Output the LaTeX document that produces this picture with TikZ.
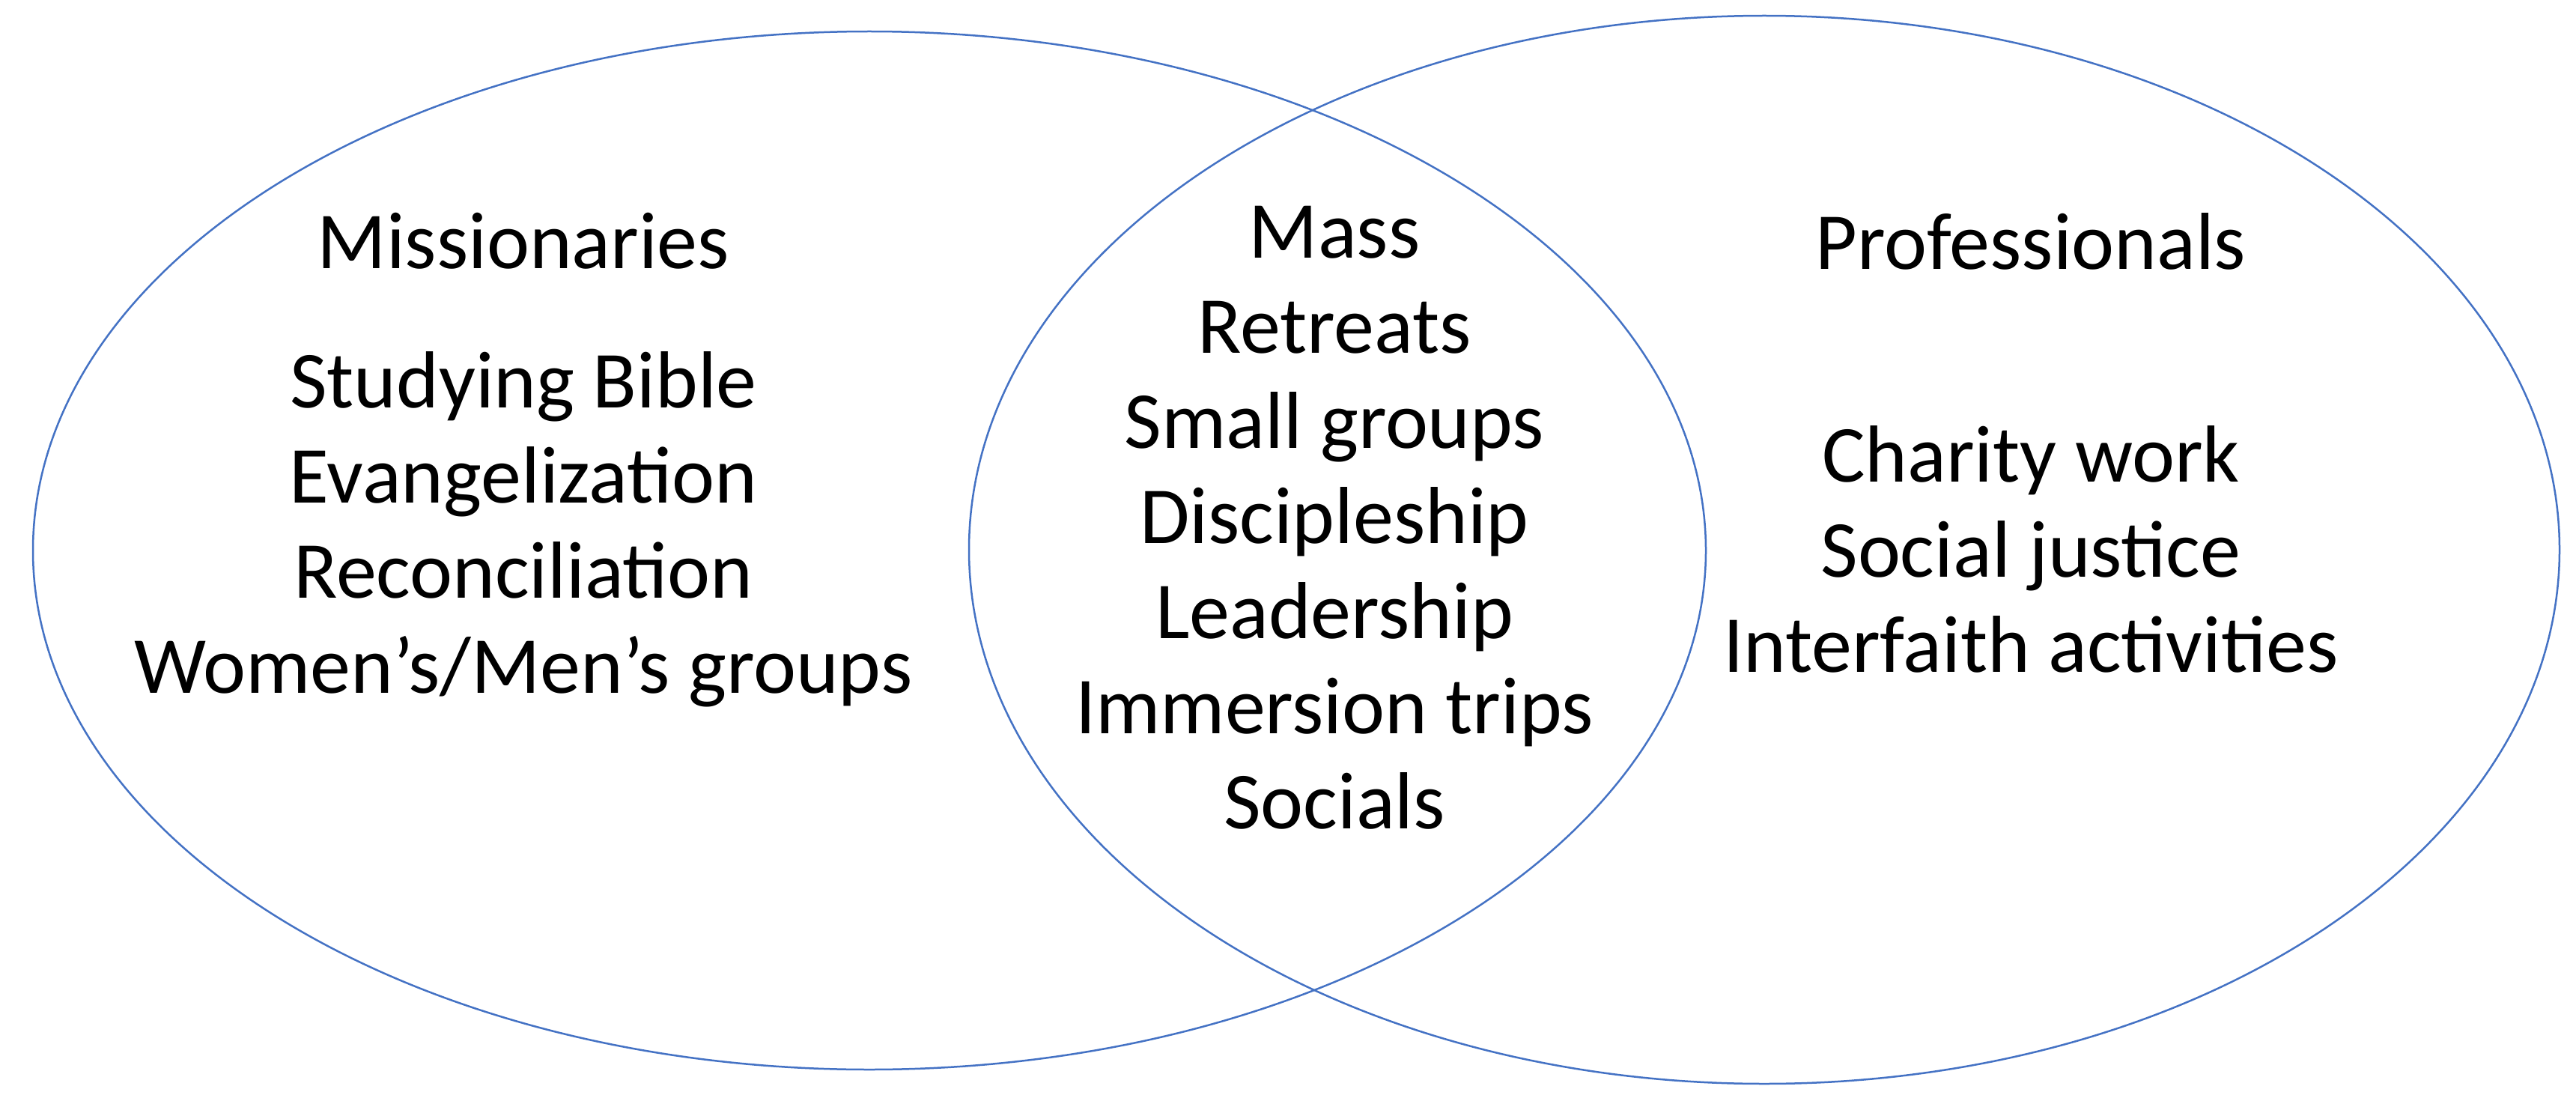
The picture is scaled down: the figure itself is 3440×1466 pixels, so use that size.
\documentclass[tikz,border=0pt]{standalone}
\usepackage{fontspec}
\setmainfont{Carlito}
\begin{document}
\begin{tikzpicture}[x=1pt,y=-1pt,
  ell/.style={draw={rgb,255:red,68;green,114;blue,196},line width=2.5pt},
  lbl/.style={font=\fontsize{108}{127}\selectfont,align=center,inner sep=0pt,anchor=center}]
\useasboundingbox (0,0) rectangle (3440,1466);
\draw[ell] (1161,735) ellipse [x radius=1117,y radius=693];
\draw[ell] (2356,734) ellipse [x radius=1062,y radius=713];
\node[lbl] (mh) at (699,322) {Missionaries};
\node[lbl] (ml) at (699,707) {Studying Bible\\Evangelization\\Reconciliation\\Women’s/Men’s groups};
\node[lbl] (cl) at (1782,691) {Mass\\Retreats\\Small groups\\Discipleship\\Leadership\\Immersion trips\\Socials};
\node[lbl] (ph) at (2712,322) {Professionals};
\node[lbl] (pl) at (2712,733) {Charity work\\Social justice\\Interfaith activities};
\end{tikzpicture}
\end{document}
